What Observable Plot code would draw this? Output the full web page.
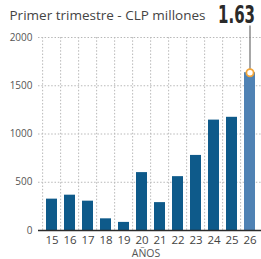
<!DOCTYPE html>
<html><head><meta charset="utf-8">
<script src="https://cdn.jsdelivr.net/npm/d3@7"></script>
<script src="https://cdn.jsdelivr.net/npm/@observablehq/plot@0.6"></script>
<style>body{margin:0;background:#fff;overflow:hidden}</style>
</head><body><div id="chart"></div>
<script>
const years = ["15","16","17","18","19","20","21","22","23","24","25","26"];
const values = [325, 366, 304, 121, 84, 600, 289, 558, 778, 1144, 1173, 1635];
const highlight = ["no","no","no","no","no","no","no","no","no","no","no","yes"];
const yTicks = [0, 500, 1000, 1500, 2000];
const title = "Primer trimestre - CLP millones";
const lastLabel = "1.63";
const xLabel = "AÑOS";

const data = years.map((y, i) => ({year: y, value: values[i], hl: highlight[i]}));
const last = data[data.length - 1];

const W = 261, H = 259, mL = 38, mR = -2, mT = 37, mB = 29;
const step = (W - mL - mR) / years.length;
const font = "'Open Sans', 'Noto Sans', sans-serif";
const leaderTop = 2120;

const chart = Plot.plot({
  width: W, height: H,
  marginLeft: mL, marginRight: mR, marginTop: mT, marginBottom: mB,
  style: {fontFamily: font, background: "#fff", overflow: "hidden"},
  x: {domain: years, paddingInner: 0.37, paddingOuter: 0.2, label: null},
  y: {domain: [0, 2000], label: null},
  color: {domain: ["no", "yes"], range: ["#0e5a8a", "#4f82b4"]},
  marks: [
    Plot.gridY(yTicks, {stroke: "#b8b8b8", strokeOpacity: 1, strokeDasharray: "1.5,1.8", strokeWidth: 1}),
    Plot.ruleX(years, {x: d => d, dx: -step / 2, stroke: "#b8b8b8", strokeDasharray: "1.5,1.8", strokeWidth: 1}),
    Plot.barY(data, {x: "year", y: "value", fill: "hl"}),
    Plot.ruleY([0], {stroke: "#2b2b2b", strokeWidth: 1.6}),
    Plot.axisY(yTicks, {tickSize: 0, tickPadding: 6, tickFormat: d => String(d), fontSize: 10, fill: "#555"}),
    Plot.axisX(years, {tickSize: 0, tickPadding: 5, fontSize: 11.5, fill: "#444", label: null}),
    Plot.ruleX([last], {x: "year", y1: "value", y2: leaderTop, stroke: "#777", strokeWidth: 1.3}),
    Plot.dot([last], {x: "year", y: "value", r: 3.6, fill: "#fff", stroke: "#f2a53a", strokeWidth: 1.8}),
    Plot.text([last], {x: "year", y: leaderTop, text: () => lastLabel, textAnchor: "start", lineAnchor: "bottom", dy: -3, dx: -32, fontSize: 25, fontWeight: "bold", fill: "#2a2a2a", fontFamily: "'DejaVu Sans Condensed', sans-serif"}),
    Plot.text([title], {frameAnchor: "top-left", text: d => d, dx: -29, dy: -27, fontSize: 13.5, fill: "#444", textAnchor: "start"}),
    Plot.text([xLabel], {frameAnchor: "bottom", text: d => d, dy: 26, dx: -5, fontSize: 10.5, fill: "#555"})
  ]
});
// condense the big value label to mimic the narrow display face
chart.querySelectorAll("text").forEach(t => {
  if (t.textContent === lastLabel) {
    t.setAttribute("textLength", 37);
    t.setAttribute("lengthAdjust", "spacingAndGlyphs");
  }
});
document.getElementById("chart").append(chart);
</script>
</body></html>
